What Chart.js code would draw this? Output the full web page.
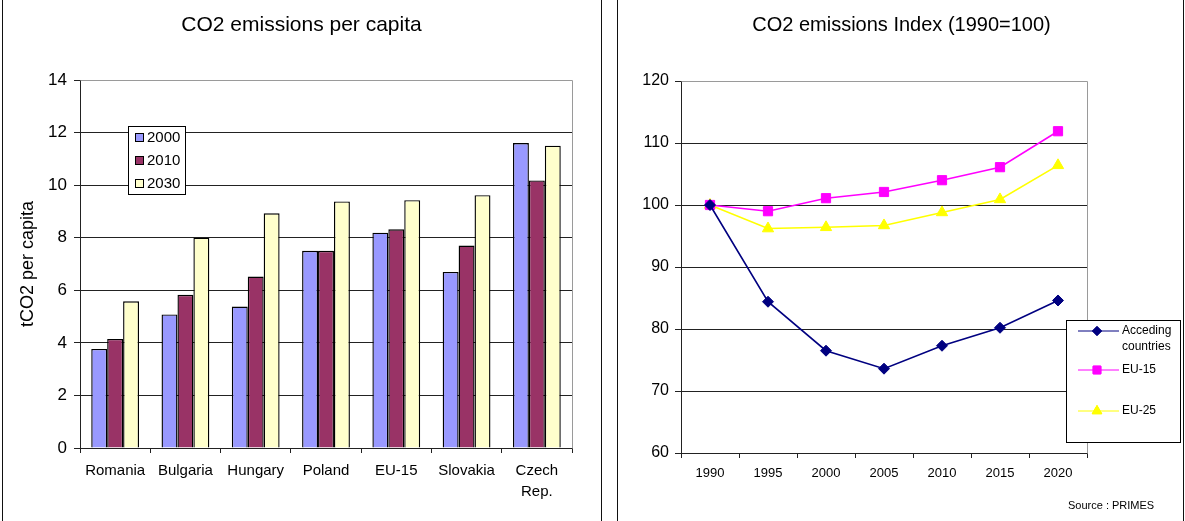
<!DOCTYPE html>
<html>
<head>
<meta charset="utf-8">
<script src="https://cdn.jsdelivr.net/npm/chart.js@4/dist/chart.umd.min.js"></script>
<style>
  html, body { margin: 0; padding: 0; background: #fff; width: 1185px; height: 521px; overflow: hidden; position: relative; }
  .panel { position: absolute; top: 0; height: 521px; }
  #leftPanel { left: 0; width: 601px; }
  #rightPanel { left: 602px; width: 583px; }
  .frame { position: absolute; top: -4px; height: 532px; border-left: 1px solid #111; border-right: 1px solid #111; pointer-events: none; }
</style>
</head>
<body>
<div class="panel" id="leftPanel"><canvas id="perCapitaChart" width="601" height="521"></canvas></div>
<div class="panel" id="rightPanel"><canvas id="indexChart" width="583" height="521"></canvas></div>
<div class="frame" style="left:2px;width:598px"></div>
<div class="frame" style="left:617px;width:565px"></div>
<script>
// ---- CO2 emissions per capita (tCO2 per inhabitant) ----
const countries = ['Romania', 'Bulgaria', 'Hungary', 'Poland', 'EU-15', 'Slovakia', ['Czech', 'Rep.']];
const perCapitaYears = ['2000', '2010', '2030'];
const perCapita2000 = [3.77, 5.08, 5.38, 7.5, 8.19, 6.7, 11.6];
const perCapita2010 = [4.15, 5.83, 6.52, 7.5, 8.32, 7.7, 10.18];
const perCapita2030 = [5.58, 8.0, 8.93, 9.38, 9.43, 9.62, 11.5];

// ---- CO2 emissions index, 1990 = 100 ----
const indexYears = ['1990', '1995', '2000', '2005', '2010', '2015', '2020'];
const indexSeriesNames = ['Acceding countries', 'EU-15', 'EU-25'];
const accedingIndex = [100, 84.4, 76.5, 73.6, 77.3, 80.2, 84.6];
const eu15Index = [100, 99.0, 101.1, 102.1, 104.0, 106.1, 111.9];
const eu25Index = [100, 96.2, 96.4, 96.7, 98.8, 100.9, 106.4];

const FONT = "'Liberation Sans', Arial, sans-serif";
const GRID = '#222';
const FRAME_GREY = '#9a9a9a';

// Centered heading text at the top of a canvas
const heading = {
  id: 'heading',
  afterDraw(chart, args, o) {
    const ctx = chart.ctx;
    ctx.save();
    ctx.font = o.size + 'px ' + FONT;
    ctx.fillStyle = '#000';
    ctx.textAlign = 'center';
    ctx.textBaseline = 'middle';
    ctx.fillText(o.text, chart.width / 2 + (o.dx || 0), o.y);
    ctx.restore();
  }
};

// Grey outline on the top and right sides of the plot area
const plotOutline = {
  id: 'plotOutline',
  beforeDatasetsDraw(chart) {
    const { ctx, chartArea: a } = chart;
    ctx.save();
    ctx.strokeStyle = FRAME_GREY;
    ctx.lineWidth = 1;
    ctx.beginPath();
    ctx.moveTo(Math.round(a.left) + 0.5, Math.round(a.top) + 0.5);
    ctx.lineTo(Math.round(a.right) + 0.5, Math.round(a.top) + 0.5);
    ctx.lineTo(Math.round(a.right) + 0.5, Math.round(a.bottom) + 0.5);
    ctx.stroke();
    ctx.restore();
  }
};

// Boxed key for the bar series, placed inside the plot
const barKey = {
  id: 'barKey',
  afterDraw(chart, args, o) {
    const ctx = chart.ctx;
    ctx.save();
    ctx.fillStyle = '#fff';
    ctx.fillRect(o.x, o.y, o.w, o.h);
    ctx.strokeStyle = '#000';
    ctx.lineWidth = 1;
    ctx.strokeRect(o.x + 0.5, o.y + 0.5, o.w, o.h);
    ctx.font = o.size + 'px ' + FONT;
    ctx.textBaseline = 'middle';
    chart.data.datasets.forEach((ds, i) => {
      const cy = o.y + o.firstRow + i * o.rowGap;
      ctx.fillStyle = ds.backgroundColor;
      ctx.fillRect(o.x + 7, cy - 4, 8, 8);
      ctx.strokeStyle = '#000';
      ctx.strokeRect(o.x + 7.5, cy - 3.5, 8, 8);
      ctx.fillStyle = '#000';
      ctx.fillText(ds.label, o.x + 19, cy + 0.5);
    });
    ctx.restore();
  }
};

// Boxed key for the line series, with wrapped labels
const lineKey = {
  id: 'lineKey',
  afterDraw(chart, args, o) {
    const ctx = chart.ctx;
    ctx.save();
    ctx.fillStyle = '#fff';
    ctx.fillRect(o.x, o.y, o.w, o.h);
    ctx.strokeStyle = '#000';
    ctx.lineWidth = 1;
    ctx.strokeRect(o.x + 0.5, o.y + 0.5, o.w, o.h);
    ctx.font = o.size + 'px ' + FONT;
    ctx.textBaseline = 'middle';
    chart.data.datasets.forEach((ds, i) => {
      const cy = o.y + o.rows[i];
      ctx.strokeStyle = ds.borderColor;
      ctx.lineWidth = ds.borderWidth;
      ctx.beginPath();
      ctx.moveTo(o.x + 12, cy);
      ctx.lineTo(o.x + 53, cy);
      ctx.stroke();
      ctx.fillStyle = ds.pointBackgroundColor;
      ctx.lineWidth = 1;
      Chart.helpers.drawPoint(ctx, { pointStyle: ds.pointStyle, radius: ds.pointRadius - 1, rotation: 0, borderWidth: 1 }, o.x + 31, cy);
      ctx.fill();
      ctx.stroke();
      // wrap words to fit the key width
      const words = ds.label.split(' ');
      const lines = [];
      let cur = '';
      words.forEach(w => {
        const t = cur ? cur + ' ' + w : w;
        if (cur && ctx.measureText(t).width > o.textWidth) { lines.push(cur); cur = w; } else { cur = t; }
      });
      lines.push(cur);
      ctx.fillStyle = '#000';
      lines.forEach((ln, k) => ctx.fillText(ln, o.x + 56, cy + k * o.lineGap));
    });
    ctx.restore();
  }
};

// Small source note at the bottom right
const sourceNote = {
  id: 'sourceNote',
  afterDraw(chart, args, o) {
    const ctx = chart.ctx;
    ctx.save();
    ctx.font = o.size + 'px ' + FONT;
    ctx.fillStyle = '#000';
    ctx.textBaseline = 'middle';
    ctx.fillText(o.text, o.x, o.y);
    ctx.restore();
  }
};

Chart.defaults.font.family = FONT;
Chart.defaults.color = '#000';

new Chart(document.getElementById('perCapitaChart'), {
  type: 'bar',
  data: {
    labels: countries,
    datasets: [
      { label: perCapitaYears[0], data: perCapita2000, backgroundColor: '#9999FF' },
      { label: perCapitaYears[1], data: perCapita2010, backgroundColor: '#993366' },
      { label: perCapitaYears[2], data: perCapita2030, backgroundColor: '#FFFFCC' }
    ]
  },
  plugins: [heading, plotOutline, barKey],
  options: {
    responsive: false,
    animation: false,
    events: [],
    layout: { padding: { left: 0, top: 80, right: 29, bottom: 0 } },
    datasets: {
      bar: { categoryPercentage: 0.68, barPercentage: 1.0, borderColor: '#000', borderWidth: 1.4, borderSkipped: 'start' }
    },
    plugins: {
      legend: { display: false },
      tooltip: { enabled: false },
      heading: { text: 'CO2 emissions per capita', size: 21, y: 25, dx: 1 },
      barKey: { x: 128, y: 126, w: 57, h: 68, firstRow: 11, rowGap: 23, size: 15 }
    },
    scales: {
      x: {
        offset: true,
        grid: { offset: true, drawOnChartArea: false, drawTicks: true, tickLength: 5, tickColor: GRID },
        border: { color: GRID, width: 1 },
        ticks: { font: { size: 15, lineHeight: 1.4 }, padding: 7, maxRotation: 0, autoSkip: false, color: '#000' },
        afterFit(scale) { scale.height = 73; }
      },
      y: {
        min: 0, max: 14,
        ticks: { stepSize: 2, font: { size: 17 }, padding: 7, color: '#000' },
        grid: {
          color: ctx => (ctx.tick && ctx.tick.value === 14 ? FRAME_GREY : GRID),
          tickColor: GRID, tickLength: 6, lineWidth: 1
        },
        border: { color: GRID, width: 1 },
        title: { display: true, text: 'tCO2 per capita', font: { size: 18 }, padding: { top: 17, bottom: 0 }, color: '#000' },
        afterFit(scale) { scale.width = 80; }
      }
    }
  }
});

new Chart(document.getElementById('indexChart'), {
  type: 'line',
  data: {
    labels: indexYears,
    datasets: [
      { label: indexSeriesNames[0], data: accedingIndex, borderColor: '#000080', pointBackgroundColor: '#000080', pointBorderColor: '#000080', pointStyle: 'rectRot', pointRadius: 5.5 },
      { label: indexSeriesNames[1], data: eu15Index, borderColor: '#FF00FF', pointBackgroundColor: '#FF00FF', pointBorderColor: '#FF00FF', pointStyle: 'rect', pointRadius: 6.5 },
      { label: indexSeriesNames[2], data: eu25Index, borderColor: '#FFFF00', pointBackgroundColor: '#FFFF00', pointBorderColor: '#FFFF00', pointStyle: 'triangle', pointRadius: 6.5 }
    ]
  },
  plugins: [heading, plotOutline, lineKey, sourceNote],
  options: {
    responsive: false,
    animation: false,
    events: [],
    layout: { padding: { left: 0, top: 81, right: 98, bottom: 0 } },
    datasets: {
      line: { borderWidth: 1.6, tension: 0, fill: false, pointBorderWidth: 1, clip: false }
    },
    plugins: {
      legend: { display: false },
      tooltip: { enabled: false },
      heading: { text: 'CO2 emissions Index (1990=100)', size: 20, y: 25, dx: 8 },
      lineKey: { x: 464, y: 320, w: 114, h: 122, rows: [11, 50, 91], lineGap: 16, textWidth: 58, size: 12 },
      sourceNote: { text: 'Source : PRIMES', x: 466, y: 506, size: 11 }
    },
    scales: {
      x: {
        offset: true,
        grid: { offset: true, drawOnChartArea: false, drawTicks: true, tickLength: 5, tickColor: GRID },
        border: { color: GRID, width: 1 },
        ticks: { font: { size: 13 }, padding: 8, maxRotation: 0, autoSkip: false, color: '#000' },
        afterFit(scale) { scale.height = 68; }
      },
      y: {
        min: 60, max: 120,
        ticks: { stepSize: 10, font: { size: 16 }, padding: 6, color: '#000' },
        grid: {
          color: ctx => (ctx.tick && ctx.tick.value === 120 ? FRAME_GREY : GRID),
          tickColor: GRID, tickLength: 6, lineWidth: 1
        },
        border: { color: GRID, width: 1 },
        afterFit(scale) { scale.width = 79; }
      }
    }
  }
});
</script>
</body>
</html>
